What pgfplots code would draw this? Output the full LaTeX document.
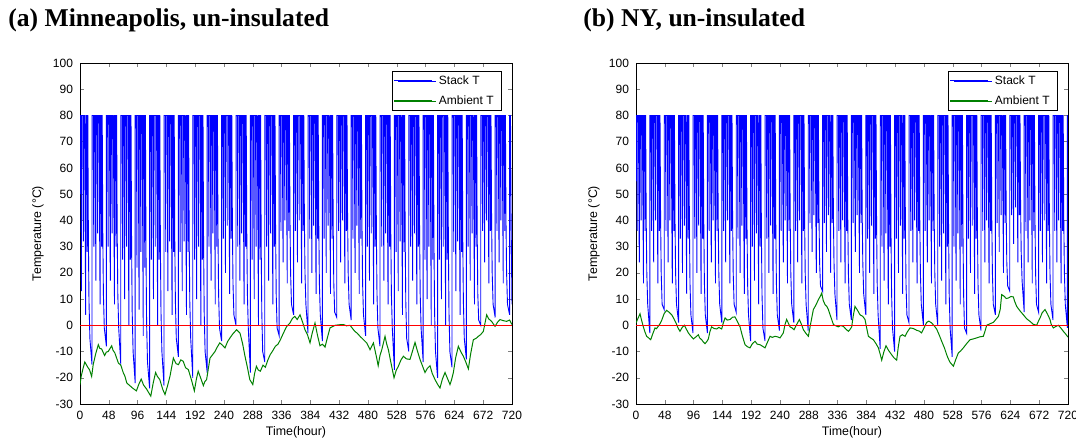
\documentclass[border=0pt]{standalone}
\usepackage{pgfplots}
\pgfplotsset{compat=1.18}
\usepackage{fontspec}
\setmainfont{Liberation Sans}
\newfontfamily\titlefont{Liberation Serif}
\definecolor{mgreen}{rgb}{0,0.5,0}
\definecolor{mblue}{rgb}{0,0,1}
\definecolor{mred}{rgb}{1,0,0}
\begin{document}
\begin{tikzpicture}
\pgfplotsset{
 myax/.style={
  scale only axis, width=216pt, height=170.5pt,
  xmin=0, xmax=720, ymin=-30, ymax=100,
  xtick={0,48,...,720}, ytick={-30,-20,...,100},
  xtick pos=both, ytick pos=both, xticklabel pos=lower, yticklabel pos=left,
  tick align=inside, major tick length=2.2pt,
  /pgf/number format/assume math mode=true,
  tick label style={font=\fontsize{6}{7}\selectfont},
  xlabel={Time(hour)}, ylabel={Temperature (°C)},
  xlabel style={at={(axis description cs:0.5,-0.082)}, anchor=center, font=\fontsize{6.2}{7}\selectfont},
  ylabel style={at={(axis description cs:-0.0972,0.5)}, anchor=center, font=\fontsize{6.2}{7}\selectfont},
  legend style={at={(axis description cs:0.977,0.9765)}, anchor=north east,
    font=\fontsize{6}{7}\selectfont, inner xsep=3pt, inner ysep=1pt, row sep=2.3pt,
    nodes={inner sep=1pt, text height=4.5pt, text depth=1.2pt}},
  legend cell align=left,
  legend image code/.code={\path (0pt,0pt) -- (19pt,0pt);},
 },
}
\node[anchor=base west, font=\titlefont\bfseries\fontsize{12.8}{14}\selectfont, inner sep=0pt] at (4pt,207.5pt) {(a) Minneapolis, un-insulated};
\node[anchor=base west, font=\titlefont\bfseries\fontsize{12.8}{14}\selectfont, inner sep=0pt] at (291.5pt,207.5pt) {(b) NY, un-insulated};

\begin{axis}[myax, at={(40pt,19pt)}, anchor=south west]
\addplot[mblue, line width=0.45pt] coordinates {
(0,50)(0,80)(1,80)(2.5,13)(2.5,80)(4.5,80)(5.5,32)(5.5,80)(7.5,80)(9.5,4)(9.5,80)(11,80)(12,28)(12,80)(13,80)(14,32)(15,9)(16.5,-5)(20,-15)
(20,80)(22,80)(23,30)(23,80)(25,80)(26.5,17)(26.5,80)(28.5,80)(29.5,35)(29.5,80)(31.5,80)(33.5,8)(33.5,80)(35,80)(36,30)(36,80)(37,80)(38,35)(39,12)(40.5,-1)(44,-8)
(44,80)(46,80)(47,30)(47,80)(49,80)(50.5,17)(50.5,80)(52.5,80)(53.5,35)(53.5,80)(55.5,80)(57.5,8)(57.5,80)(59,80)(60,30)(60,80)(61,80)(62,35)(63,12)(64.5,-1)(68,-15)
(68,80)(70,80)(71,25)(71,80)(73,80)(74.5,10)(74.5,80)(76.5,80)(77.5,30)(77.5,80)(79.5,80)(81.5,0)(81.5,80)(83,80)(84,25)(84,80)(85,80)(86,30)(87,5)(88.5,-10)(92,-22)
(92,80)(94,80)(95,22)(95,80)(97,80)(98.5,6)(98.5,80)(100.5,80)(101.5,28)(101.5,80)(103.5,80)(105.5,-4)(105.5,80)(107,80)(108,22)(108,80)(109,80)(110,28)(111,1)(112.5,-14)(116,-24)
(116,80)(118,80)(119,25)(119,80)(121,80)(122.5,10)(122.5,80)(124.5,80)(125.5,30)(125.5,80)(127.5,80)(129.5,0)(129.5,80)(131,80)(132,25)(132,80)(133,80)(134,30)(135,5)(136.5,-10)(140,-23)
(140,80)(142,80)(143,28)(143,80)(145,80)(146.5,13)(146.5,80)(148.5,80)(149.5,32)(149.5,80)(151.5,80)(153.5,4)(153.5,80)(155,80)(156,28)(156,80)(157,80)(158,32)(159,9)(160.5,-5)(164,-12)
(164,80)(166,80)(167,28)(167,80)(169,80)(170.5,13)(170.5,80)(172.5,80)(173.5,32)(173.5,80)(175.5,80)(177.5,4)(177.5,80)(179,80)(180,28)(180,80)(181,80)(182,32)(183,9)(184.5,-5)(188,-20)
(188,80)(190,80)(191,25)(191,80)(193,80)(194.5,10)(194.5,80)(196.5,80)(197.5,30)(197.5,80)(199.5,80)(201.5,0)(201.5,80)(203,80)(204,25)(204,80)(205,80)(206,30)(207,5)(208.5,-10)(212,-18)
(212,80)(214,80)(215,30)(215,80)(217,80)(218.5,17)(218.5,80)(220.5,80)(221.5,35)(221.5,80)(223.5,80)(225.5,8)(225.5,80)(227,80)(228,30)(228,80)(229,80)(230,35)(231,12)(232.5,-1)(236,-6)
(236,80)(238,80)(239,33)(239,80)(241,80)(242.5,20)(242.5,80)(244.5,80)(245.5,38)(245.5,80)(247.5,80)(249.5,12)(249.5,80)(251,80)(252,33)(252,80)(253,80)(254,38)(255,16)(256.5,4)(260,0)
(260,80)(262,80)(263,30)(263,80)(265,80)(266.5,17)(266.5,80)(268.5,80)(269.5,35)(269.5,80)(271.5,80)(273.5,8)(273.5,80)(275,80)(276,30)(276,80)(277,80)(278,35)(279,12)(280.5,-1)(284,-18)
(284,80)(286,80)(287,25)(287,80)(289,80)(290.5,10)(290.5,80)(292.5,80)(293.5,30)(293.5,80)(295.5,80)(297.5,0)(297.5,80)(299,80)(300,25)(300,80)(301,80)(302,30)(303,5)(304.5,-10)(308,-14)
(308,80)(310,80)(311,30)(311,80)(313,80)(314.5,17)(314.5,80)(316.5,80)(317.5,35)(317.5,80)(319.5,80)(321.5,8)(321.5,80)(323,80)(324,30)(324,80)(325,80)(326,35)(327,12)(328.5,-1)(332,-4)
(332,80)(334,80)(335,36)(335,80)(337,80)(338.5,24)(338.5,80)(340.5,80)(341.5,40)(341.5,80)(343.5,80)(345.5,16)(345.5,80)(347,80)(348,36)(348,80)(349,80)(350,40)(351,20)(352.5,8)(356,4)
(356,80)(358,80)(359,36)(359,80)(361,80)(362.5,24)(362.5,80)(364.5,80)(365.5,40)(365.5,80)(367.5,80)(369.5,16)(369.5,80)(371,80)(372,36)(372,80)(373,80)(374,40)(375,20)(376.5,8)(380,-3)
(380,80)(382,80)(383,33)(383,80)(385,80)(386.5,20)(386.5,80)(388.5,80)(389.5,38)(389.5,80)(391.5,80)(393.5,12)(393.5,80)(395,80)(396,33)(396,80)(397,80)(398,38)(399,16)(400.5,4)(404,-6)
(404,80)(406,80)(407,33)(407,80)(409,80)(410.5,20)(410.5,80)(412.5,80)(413.5,38)(413.5,80)(415.5,80)(417.5,12)(417.5,80)(419,80)(420,33)(420,80)(421,80)(422,38)(423,16)(424.5,5)(428,3)
(428,80)(430,80)(431,36)(431,80)(433,80)(434.5,24)(434.5,80)(436.5,80)(437.5,40)(437.5,80)(439.5,80)(441.5,16)(441.5,80)(443,80)(444,36)(444,80)(445,80)(446,40)(447,20)(448.5,8)(452,2)
(452,80)(454,80)(455,33)(455,80)(457,80)(458.5,20)(458.5,80)(460.5,80)(461.5,38)(461.5,80)(463.5,80)(465.5,12)(465.5,80)(467,80)(468,33)(468,80)(469,80)(470,38)(471,16)(472.5,4)(476,-4)
(476,80)(478,80)(479,30)(479,80)(481,80)(482.5,17)(482.5,80)(484.5,80)(485.5,35)(485.5,80)(487.5,80)(489.5,8)(489.5,80)(491,80)(492,30)(492,80)(493,80)(494,35)(495,12)(496.5,-1)(500,-8)
(500,80)(502,80)(503,30)(503,80)(505,80)(506.5,17)(506.5,80)(508.5,80)(509.5,35)(509.5,80)(511.5,80)(513.5,8)(513.5,80)(515,80)(516,30)(516,80)(517,80)(518,35)(519,12)(520.5,-1)(524,-17)
(524,80)(526,80)(527,28)(527,80)(529,80)(530.5,13)(530.5,80)(532.5,80)(533.5,32)(533.5,80)(535.5,80)(537.5,4)(537.5,80)(539,80)(540,28)(540,80)(541,80)(542,32)(543,9)(544.5,-5)(548,-10)
(548,80)(550,80)(551,30)(551,80)(553,80)(554.5,17)(554.5,80)(556.5,80)(557.5,35)(557.5,80)(559.5,80)(561.5,8)(561.5,80)(563,80)(564,30)(564,80)(565,80)(566,35)(567,12)(568.5,-1)(572,-14)
(572,80)(574,80)(575,25)(575,80)(577,80)(578.5,10)(578.5,80)(580.5,80)(581.5,30)(581.5,80)(583.5,80)(585.5,0)(585.5,80)(587,80)(588,25)(588,80)(589,80)(590,30)(591,5)(592.5,-10)(596,-20)
(596,80)(598,80)(599,25)(599,80)(601,80)(602.5,10)(602.5,80)(604.5,80)(605.5,30)(605.5,80)(607.5,80)(609.5,0)(609.5,80)(611,80)(612,25)(612,80)(613,80)(614,30)(615,5)(616.5,-10)(620,-16)
(620,80)(622,80)(623,28)(623,80)(625,80)(626.5,13)(626.5,80)(628.5,80)(629.5,32)(629.5,80)(631.5,80)(633.5,4)(633.5,80)(635,80)(636,28)(636,80)(637,80)(638,32)(639,9)(640.5,-5)(644,-13)
(644,80)(646,80)(647,30)(647,80)(649,80)(650.5,17)(650.5,80)(652.5,80)(653.5,35)(653.5,80)(655.5,80)(657.5,8)(657.5,80)(659,80)(660,30)(660,80)(661,80)(662,35)(663,12)(664.5,2)(668,0)
(668,80)(670,80)(671,36)(671,80)(673,80)(674.5,24)(674.5,80)(676.5,80)(677.5,40)(677.5,80)(679.5,80)(681.5,16)(681.5,80)(683,80)(684,36)(684,80)(685,80)(686,40)(687,20)(688.5,8)(692,3)
(692,80)(694,80)(695,36)(695,80)(697,80)(698.5,24)(698.5,80)(700.5,80)(701.5,40)(701.5,80)(703.5,80)(705.5,16)(705.5,80)(707,80)(708,36)(708,80)(709,80)(710,40)(711,20)(712.5,8)(716,4)
(716,80)(717.5,80)(718.5,40)(720,8)
};
\addlegendentry{Stack T}
\addplot[mgreen, line width=0.5pt] coordinates {
(0,-22.6)(2,-19.4)(5,-16.5)(8,-14)(13,-16)(16,-17)(19.4,-19.5)(22,-15)(26,-11)(30.5,-7.4)(33,-8.8)(36,-9)(41,-11.5)(44,-10.2)(47,-10)(52.8,-7.8)(55,-9.5)(58,-10.5)(64,-14.4)(68,-15.2)(72,-18)(75,-19.5)(78,-22)(83,-23)(88,-24)(94,-25)(98,-22.5)(102,-20.5)(106,-22.8)(111,-24.3)(114,-25.5)(118,-27)(122,-22)(126,-18)(129,-19.5)(133,-20.7)(138,-24.5)(141.7,-26.4)(146,-23)(150,-19.4)(155.6,-12.5)(160,-14.6)(164,-15)(168,-13.2)(172,-13.7)(176,-16.2)(180.6,-16.9)(186,-21)(190.6,-25)(194,-20.5)(197,-17.5)(201,-20)(205.6,-23)(208,-21.5)(211,-20.7)(216.7,-12.5)(221,-11.2)(225,-10)(229,-8.2)(233,-6.7)(237,-7.5)(241.7,-8.6)(246,-6.2)(250,-4.8)(255,-3.2)(261,-1.7)(266.7,-3)(271,-7)(275,-11.8)(279,-16)(283,-20.7)(288,-22.6)(291,-18.4)(294,-15.6)(297,-17)(300.6,-17.5)(305,-15.2)(308.9,-16)(313,-13.3)(317,-11.2)(321,-9.8)(325.6,-8)(330,-7.2)(334,-5.5)(339,-3)(344,-0.6)(350,0.9)(354,2.6)(358,3.4)(362,2.2)(366.7,4)(371,1.2)(375,-1.7)(379,-3.5)(383.4,-6.7)(387,-3)(391.7,0.9)(396,-4)(400,-7.8)(404,-7.2)(408.4,-8.3)(412,-5)(416.7,-1)(421,-0.5)(425,0)(432,0.2)(439,0.3)(444,-0.2)(450,0)(458,-2.3)(462,-3)(466.7,-4.2)(472,-5.4)(477.8,-6.7)(483.4,-9.3)(489,-6.7)(494.5,-12.5)(497,-15.4)(500,-11.5)(503,-9.3)(508.4,-4.2)(511,-7)(514,-9.3)(518,-14)(523.4,-20)(527,-17.2)(530.6,-15.6)(535,-13.2)(539,-11.8)(544,-12.8)(550,-13)(554,-10)(558.4,-6.5)(562,-9.5)(566.7,-13)(571,-15.6)(575,-18)(579,-16.4)(583.4,-15.4)(587,-18.3)(591.7,-20.7)(596,-22.5)(600,-23.9)(604,-20.5)(608.4,-18)(612,-20)(616.7,-22.6)(619,-21)(622.3,-18)(626,-12.5)(630.6,-8)(635,-10.2)(639,-11.8)(643,-14)(647.3,-16.6)(651,-11)(655.6,-5.5)(660,-5)(664,-4.2)(668,-3.5)(672.3,-2.3)(677.8,4)(681,2.5)(686,1.5)(691.7,-0.4)(696,1.2)(700,2.2)(705,1.8)(711,1.5)(716,2)(720,0.3)
};
\addlegendentry{Ambient T}
\coordinate (Az0) at (axis cs:0,0);
\coordinate (Az1) at (axis cs:720,0);
\coordinate (Ab1) at (axis description cs:0.7269,0.9487);
\coordinate (Ab2) at (axis description cs:0.8148,0.9487);
\coordinate (Ag1) at (axis description cs:0.7269,0.8886);
\coordinate (Ag2) at (axis description cs:0.8148,0.8886);
\end{axis}

\begin{axis}[myax, at={(318pt,19pt)}, anchor=south west]
\addplot[mblue, line width=0.45pt] coordinates {
(0,55)(0,80)(1,80)(2,36)(2,80)(4,80)(5.5,24)(5.5,80)(7.5,80)(8.5,40)(8.5,80)(10.5,80)(12.5,16)(12.5,80)(14,80)(15,36)(15,80)(16,80)(17,40)(18,20)(19.5,8)(23,-3)
(23,80)(25,80)(26,36)(26,80)(28,80)(29.5,24)(29.5,80)(31.5,80)(32.5,40)(32.5,80)(34.5,80)(36.5,16)(36.5,80)(38,80)(39,36)(39,80)(40,80)(41,40)(42,20)(43.5,8)(47,6)
(47,80)(49,80)(50,36)(50,80)(52,80)(53.5,24)(53.5,80)(55.5,80)(56.5,40)(56.5,80)(58.5,80)(60.5,16)(60.5,80)(62,80)(63,36)(63,80)(64,80)(65,40)(66,20)(67.5,8)(71,1)
(71,80)(73,80)(74,33)(74,80)(76,80)(77.5,20)(77.5,80)(79.5,80)(80.5,38)(80.5,80)(82.5,80)(84.5,12)(84.5,80)(86,80)(87,33)(87,80)(88,80)(89,38)(90,16)(91.5,4)(95,-3)
(95,80)(97,80)(98,33)(98,80)(100,80)(101.5,20)(101.5,80)(103.5,80)(104.5,38)(104.5,80)(106.5,80)(108.5,12)(108.5,80)(110,80)(111,33)(111,80)(112,80)(113,38)(114,16)(115.5,4)(119,-3)
(119,80)(121,80)(122,36)(122,80)(124,80)(125.5,24)(125.5,80)(127.5,80)(128.5,40)(128.5,80)(130.5,80)(132.5,16)(132.5,80)(134,80)(135,36)(135,80)(136,80)(137,40)(138,20)(139.5,8)(143,1)
(143,80)(145,80)(146,36)(146,80)(148,80)(149.5,24)(149.5,80)(151.5,80)(152.5,40)(152.5,80)(154.5,80)(156.5,16)(156.5,80)(158,80)(159,36)(159,80)(160,80)(161,40)(162,20)(163.5,8)(167,5)
(167,80)(169,80)(170,33)(170,80)(172,80)(173.5,20)(173.5,80)(175.5,80)(176.5,38)(176.5,80)(178.5,80)(180.5,12)(180.5,80)(182,80)(183,33)(183,80)(184,80)(185,38)(186,16)(187.5,4)(191,-6)
(191,80)(193,80)(194,30)(194,80)(196,80)(197.5,17)(197.5,80)(199.5,80)(200.5,35)(200.5,80)(202.5,80)(204.5,8)(204.5,80)(206,80)(207,30)(207,80)(208,80)(209,35)(210,12)(211.5,-1)(215,-6)
(215,80)(217,80)(218,33)(218,80)(220,80)(221.5,20)(221.5,80)(223.5,80)(224.5,38)(224.5,80)(226.5,80)(228.5,12)(228.5,80)(230,80)(231,33)(231,80)(232,80)(233,38)(234,16)(235.5,4)(239,-2)
(239,80)(241,80)(242,36)(242,80)(244,80)(245.5,24)(245.5,80)(247.5,80)(248.5,40)(248.5,80)(250.5,80)(252.5,16)(252.5,80)(254,80)(255,36)(255,80)(256,80)(257,40)(258,20)(259.5,8)(263,1)
(263,80)(265,80)(266,36)(266,80)(268,80)(269.5,24)(269.5,80)(271.5,80)(272.5,40)(272.5,80)(274.5,80)(276.5,16)(276.5,80)(278,80)(279,36)(279,80)(280,80)(281,40)(282,20)(283.5,8)(287,-2)
(287,80)(289,80)(290,39)(290,80)(292,80)(293.5,28)(293.5,80)(295.5,80)(296.5,42)(296.5,80)(298.5,80)(300.5,20)(300.5,80)(302,80)(303,39)(303,80)(304,80)(305,42)(306,24)(307.5,15)(311,13)
(311,80)(313,80)(314,39)(314,80)(316,80)(317.5,28)(317.5,80)(319.5,80)(320.5,42)(320.5,80)(322.5,80)(324.5,20)(324.5,80)(326,80)(327,39)(327,80)(328,80)(329,42)(330,24)(331.5,12)(335,2)
(335,80)(337,80)(338,36)(338,80)(340,80)(341.5,24)(341.5,80)(343.5,80)(344.5,40)(344.5,80)(346.5,80)(348.5,16)(348.5,80)(350,80)(351,36)(351,80)(352,80)(353,40)(354,20)(355.5,8)(359,2)
(359,80)(361,80)(362,39)(362,80)(364,80)(365.5,28)(365.5,80)(367.5,80)(368.5,42)(368.5,80)(370.5,80)(372.5,20)(372.5,80)(374,80)(375,39)(375,80)(376,80)(377,42)(378,24)(379.5,12)(383,4)
(383,80)(385,80)(386,33)(386,80)(388,80)(389.5,20)(389.5,80)(391.5,80)(392.5,38)(392.5,80)(394.5,80)(396.5,12)(396.5,80)(398,80)(399,33)(399,80)(400,80)(401,38)(402,16)(403.5,4)(407,-9)
(407,80)(409,80)(410,30)(410,80)(412,80)(413.5,17)(413.5,80)(415.5,80)(416.5,35)(416.5,80)(418.5,80)(420.5,8)(420.5,80)(422,80)(423,30)(423,80)(424,80)(425,35)(426,12)(427.5,-1)(431,-10)
(431,80)(433,80)(434,33)(434,80)(436,80)(437.5,20)(437.5,80)(439.5,80)(440.5,38)(440.5,80)(442.5,80)(444.5,12)(444.5,80)(446,80)(447,33)(447,80)(448,80)(449,38)(450,16)(451.5,4)(455,1)
(455,80)(457,80)(458,36)(458,80)(460,80)(461.5,24)(461.5,80)(463.5,80)(464.5,40)(464.5,80)(466.5,80)(468.5,16)(468.5,80)(470,80)(471,36)(471,80)(472,80)(473,40)(474,20)(475.5,8)(479,0)
(479,80)(481,80)(482,36)(482,80)(484,80)(485.5,24)(485.5,80)(487.5,80)(488.5,40)(488.5,80)(490.5,80)(492.5,16)(492.5,80)(494,80)(495,36)(495,80)(496,80)(497,40)(498,20)(499.5,8)(503,0)
(503,80)(505,80)(506,30)(506,80)(508,80)(509.5,17)(509.5,80)(511.5,80)(512.5,35)(512.5,80)(514.5,80)(516.5,8)(516.5,80)(518,80)(519,30)(519,80)(520,80)(521,35)(522,12)(523.5,-1)(527,-12)
(527,80)(529,80)(530,30)(530,80)(532,80)(533.5,17)(533.5,80)(535.5,80)(536.5,35)(536.5,80)(538.5,80)(540.5,8)(540.5,80)(542,80)(543,30)(543,80)(544,80)(545,35)(546,12)(547.5,-1)(551,-3)
(551,80)(553,80)(554,33)(554,80)(556,80)(557.5,20)(557.5,80)(559.5,80)(560.5,38)(560.5,80)(562.5,80)(564.5,12)(564.5,80)(566,80)(567,33)(567,80)(568,80)(569,38)(570,16)(571.5,4)(575,-2)
(575,80)(577,80)(578,36)(578,80)(580,80)(581.5,24)(581.5,80)(583.5,80)(584.5,40)(584.5,80)(586.5,80)(588.5,16)(588.5,80)(590,80)(591,36)(591,80)(592,80)(593,40)(594,20)(595.5,8)(599,4)
(599,80)(601,80)(602,39)(602,80)(604,80)(605.5,28)(605.5,80)(607.5,80)(608.5,42)(608.5,80)(610.5,80)(612.5,20)(612.5,80)(614,80)(615,39)(615,80)(616,80)(617,42)(618,24)(619.5,15)(623,13)
(623,80)(625,80)(626,42)(626,80)(628,80)(629.5,31)(629.5,80)(631.5,80)(632.5,45)(632.5,80)(634.5,80)(636.5,24)(636.5,80)(638,80)(639,42)(639,80)(640,80)(641,45)(642,28)(643.5,17)(647,5)
(647,80)(649,80)(650,36)(650,80)(652,80)(653.5,24)(653.5,80)(655.5,80)(656.5,40)(656.5,80)(658.5,80)(660.5,16)(660.5,80)(662,80)(663,36)(663,80)(664,80)(665,40)(666,20)(667.5,8)(671,5)
(671,80)(673,80)(674,36)(674,80)(676,80)(677.5,24)(677.5,80)(679.5,80)(680.5,40)(680.5,80)(682.5,80)(684.5,16)(684.5,80)(686,80)(687,36)(687,80)(688,80)(689,40)(690,20)(691.5,8)(695,2)
(695,80)(697,80)(698,36)(698,80)(700,80)(701.5,24)(701.5,80)(703.5,80)(704.5,40)(704.5,80)(706.5,80)(708.5,16)(708.5,80)(710,80)(711,36)(711,80)(712,80)(713,40)(714,20)(715.5,8)(719,-1)
(719,80)(720,80)
};
\addlegendentry{Stack T}
\addplot[mgreen, line width=0.5pt] coordinates {
(0,0.9)(3,2.5)(6.7,4.4)(9,2.2)(12,-0.4)(15,-2.6)(17.8,-4.2)(21,-4.8)(24.5,-5.5)(28,-3.2)(31.7,-1)(34,-1.3)(37,-0.4)(40,0.6)(42.8,1.9)(47,4.5)(51,5.7)(55,5)(59.5,4)(63,2.6)(67.8,0.3)(70,-1)(73.3,-2.3)(77,-0.8)(80.6,0)(84,-1.5)(87.2,-2.9)(91,-4)(95.6,-5.2)(100,-4.4)(103.9,-3.6)(106,-4.8)(109.5,-5.5)(112,-6.3)(115,-7)(118,-6.2)(120.6,-5.2)(123,-2.6)(126,-0.6)(130,-1.2)(134.5,-1.4)(138,-0.8)(142.8,-1.4)(145,0.5)(148.4,2.8)(152,2)(156.7,2.2)(161,3.1)(165,3.2)(169,1.4)(173.4,-0.6)(177,-3.8)(181.7,-7.4)(186,-8.2)(190,-8.6)(194,-7)(198.4,-6.1)(202,-7.2)(206.7,-7.4)(211,-8)(215,-8.6)(219,-6.5)(223.4,-4.2)(227,-4.6)(231.7,-4.2)(236,-4.4)(240,-4.8)(245.6,-2.9)(248,0)(251,2.2)(254,0.8)(256.7,-0.6)(260,-1)(263.4,-1.7)(268,0.4)(272.3,2.2)(276,0.2)(279,-1.7)(283,-3)(287.3,-4.2)(291,0.5)(295.6,6)(300,7.8)(304,9.8)(307,11)(309.5,12.3)(312,9.5)(315,7.9)(318,7.2)(320.6,6)(325,3)(329,0.3)(333,-0.2)(337.3,-0.6)(341,-0.1)(345.6,-0.4)(350,-1.5)(354,-2.3)(356,-1.8)(359.5,-0.6)(362,3.5)(365,7.2)(369,5.8)(373.4,4)(378,3.4)(381.7,2.2)(384,-0.5)(387.3,-4.2)(391,-4.8)(395.6,-5.5)(400,-7)(404,-8.6)(407,-11)(409.5,-13.3)(413,-10.2)(416.7,-7.8)(421,-9.6)(426,-11.2)(430,-12.4)(434.5,-13.3)(437,-8.5)(440,-4.2)(444,-3.6)(448.4,-4.2)(452,-2.6)(456.7,-1)(462,-1.2)(467.8,-1.9)(472,-2.2)(476,-2.9)(480,-1)(484.5,1.1)(488,1.6)(492.8,0.9)(497,-0.2)(501,-1.4)(505,-3.5)(509.5,-6.1)(514,-8.6)(517.8,-11.2)(520,-12.5)(523.4,-14.1)(526,-14.8)(529,-15.6)(533,-13)(537.3,-10.5)(541,-9.8)(545.6,-8.6)(551,-7)(556.7,-5.5)(562,-5.2)(567.8,-4.8)(573,-4.4)(578.9,-4.2)(582,-2)(584.5,0)(590,0.6)(595.6,1.1)(600,2.3)(604,3.4)(607,6)(609.5,11.7)(614,11)(617,10.2)(620.6,10.4)(625,11)(629,10.8)(631,9.2)(634.5,7.2)(640,5.5)(645.6,4)(651,2.5)(656.7,1.5)(662,0.4)(667.8,0)(670,1.2)(673.4,2.8)(677,4.8)(681.7,6)(686,4.2)(690,2.2)(692,0.4)(695.6,-1)(700,-0.4)(704,0)(708,-1)(712.3,-2.3)(716,-3.3)(720,-4.5)
};
\addlegendentry{Ambient T}
\coordinate (Bz0) at (axis cs:0,0);
\coordinate (Bz1) at (axis cs:720,0);
\coordinate (Bb1) at (axis description cs:0.7269,0.9487);
\coordinate (Bb2) at (axis description cs:0.8148,0.9487);
\coordinate (Bg1) at (axis description cs:0.7269,0.8886);
\coordinate (Bg2) at (axis description cs:0.8148,0.8886);
\end{axis}
\draw[mred, line width=0.6pt] (Az0) -- (Az1);
\draw[mred, line width=0.6pt] (Bz0) -- (Bz1);
\draw[mblue, line width=0.6pt] (Ab1) -- (Ab2);
\draw[mgreen, line width=0.6pt] (Ag1) -- (Ag2);
\draw[mblue, line width=0.6pt] (Bb1) -- (Bb2);
\draw[mgreen, line width=0.6pt] (Bg1) -- (Bg2);
\pgfresetboundingbox
\path[use as bounding box] (0pt,0pt) rectangle (538pt,221pt);
\end{tikzpicture}
\end{document}
